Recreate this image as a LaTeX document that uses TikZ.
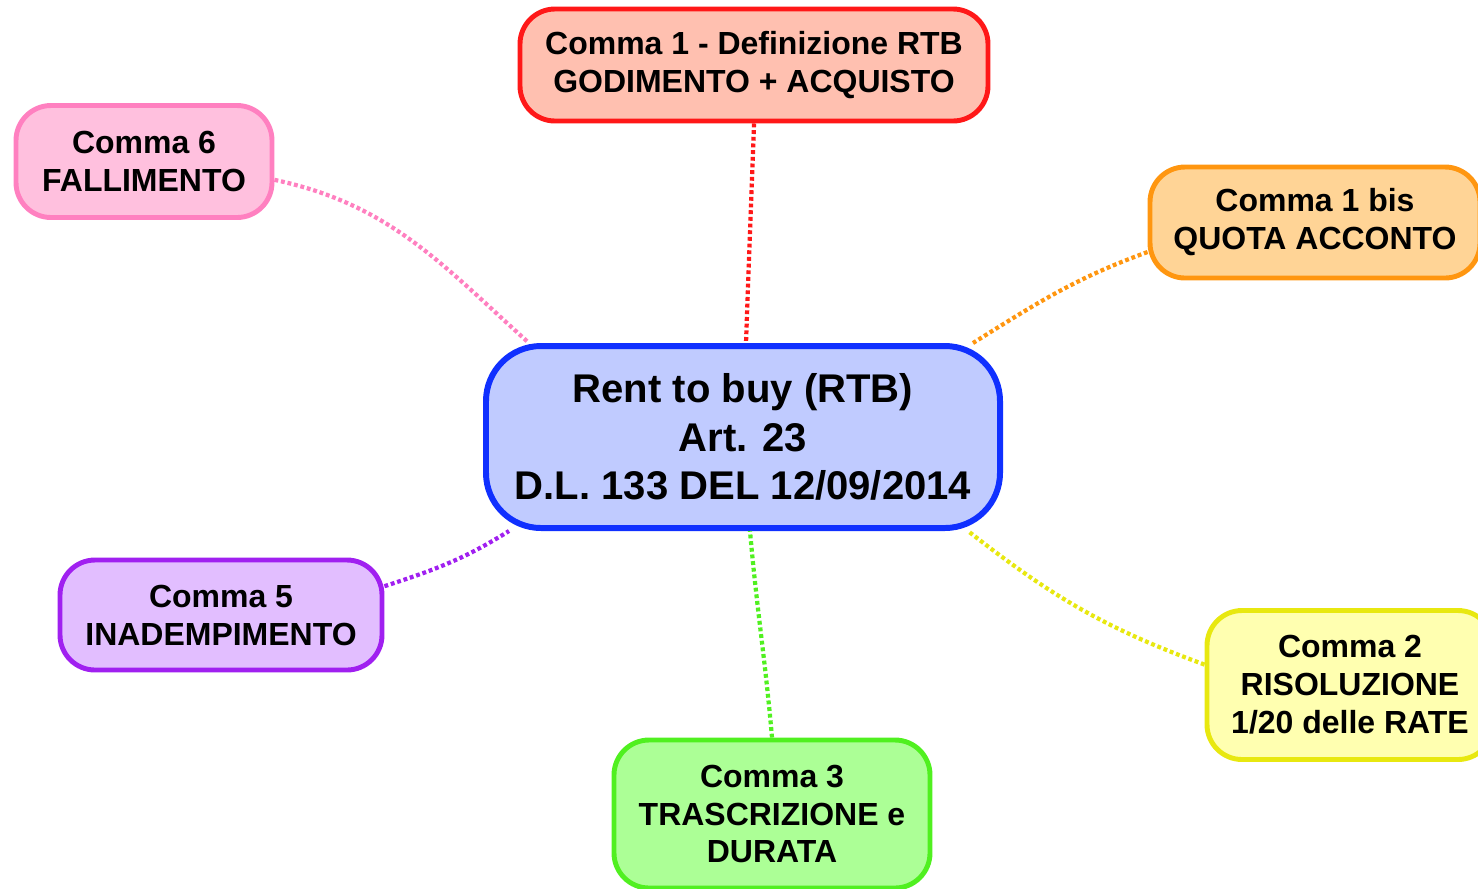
\documentclass[tikz,border=0pt]{standalone}
\usepackage{fontspec}
\setmainfont{Liberation Sans}
\definecolor{rtbfill}{RGB}{192,203,255}
\definecolor{rtbline}{RGB}{16,48,255}
\definecolor{redfill}{RGB}{255,192,176}
\definecolor{redline}{RGB}{255,24,24}
\definecolor{pinkfill}{RGB}{255,192,222}
\definecolor{pinkline}{RGB}{255,128,192}
\definecolor{orangefill}{RGB}{255,212,150}
\definecolor{orangeline}{RGB}{255,150,16}
\definecolor{yellowfill}{RGB}{255,255,176}
\definecolor{yellowline}{RGB}{232,232,16}
\definecolor{greenfill}{RGB}{172,255,150}
\definecolor{greenline}{RGB}{80,240,32}
\definecolor{violetfill}{RGB}{226,190,255}
\definecolor{violetline}{RGB}{160,32,240}
\tikzstyle{comma}=[draw, rounded corners=0.35cm, line width=1.4pt, align=center, inner sep=0pt, font=\bfseries\fontsize{9.1}{10.8}\selectfont]
\tikzstyle{centre}=[comma, rounded corners=0.55cm, line width=1.7pt, font=\bfseries\fontsize{11.4}{13.7}\selectfont]
\tikzstyle{link}=[line width=1.2pt, dash pattern=on 1.1pt off 0.8pt]

\begin{document}
\begin{tikzpicture}[style=thick]
	\useasboundingbox (0,0) rectangle (14.78,-8.88);
	\draw (7.43,-4.37) node [centre, fill=rtbfill, draw=rtbline, minimum width=5.14cm, minimum height=1.82cm] (rtb) {Rent to buy (RTB)\\Art. 23\\D.L. 133 DEL 12/09/2014};
	\draw (7.54,-0.65) node [comma, fill=redfill, draw=redline, minimum width=4.68cm, minimum height=1.12cm] (c1) {Comma 1 - Definizione RTB\\GODIMENTO + ACQUISTO};
	\draw (1.44,-1.615) node [comma, fill=pinkfill, draw=pinkline, minimum width=2.56cm, minimum height=1.12cm] (c6) {Comma 6\\FALLIMENTO};
	\draw (13.15,-2.225) node [comma, fill=orangefill, draw=orangeline, minimum width=3.30cm, minimum height=1.11cm] (c1b) {Comma 1 bis\\QUOTA ACCONTO};
	\draw (2.21,-6.15) node [comma, fill=violetfill, draw=violetline, minimum width=3.22cm, minimum height=1.10cm] (c5) {Comma 5\\INADEMPIMENTO};
	\draw (7.72,-8.14) node [comma, fill=greenfill, draw=greenline, minimum width=3.16cm, minimum height=1.48cm] (c3) {Comma 3\\TRASCRIZIONE e\\DURATA};
	\draw (13.50,-6.85) node [comma, fill=yellowfill, draw=yellowline, minimum width=2.86cm, minimum height=1.49cm] (c2) {Comma 2\\RISOLUZIONE\\1/20 delle RATE};
	% dotted links to the centre
	\draw [link, redline] (c1.south) to[out=-92, in=88] ([xshift=0.03cm]rtb.north);
	\draw [link, pinkline] (c6.-8) to[out=-12, in=138] ([xshift=0.46cm]rtb.north west);
	\draw [link, orangeline] (c1b.190) to[out=200, in=32] ([xshift=-0.30cm]rtb.north east);
	\draw [link, yellowline] (c2.172) to[out=160, in=-38] ([xshift=-0.35cm]rtb.south east);
	\draw [link, greenline] (c3.north) to[out=95, in=-85] ([xshift=0.07cm]rtb.south);
	\draw [link, violetline] (c5.10) to[out=18, in=-148] ([xshift=0.26cm]rtb.south west);
\end{tikzpicture}
\end{document}
